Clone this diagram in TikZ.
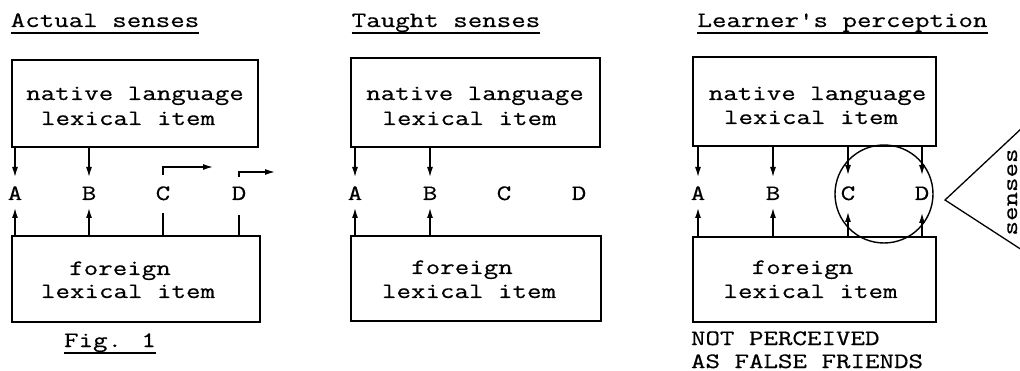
\documentclass[tikz,border=0pt]{standalone}
\usepackage{fontspec}
\newfontfamily\monofam[FakeStretch=1.28,FakeBold=0.5]{Latin Modern Mono}
\usetikzlibrary{arrows.meta,calc}
\begin{document}
\begin{tikzpicture}[x=1pt,y=-1pt,
  every node/.style={inner sep=0pt,outer sep=0pt,font=\monofam\fontsize{22}{26}\selectfont},
  box/.style={draw,line width=1.4pt,rectangle},
  txt/.style={anchor=base},
  ln/.style={line width=1.3pt},
  arr/.style={line width=1.3pt,-{Latex[length=10pt,width=6pt]}},
  uline/.style={line width=1.2pt}]
\useasboundingbox (0,0) rectangle (1020,371);
\clip (0,0) rectangle (1020,371);
\fill[white] (0,0) rectangle (1020,371);

% ---------- Panel 1 ----------
\node[txt] (t1) at (105,27) {Actual senses};
\draw[uline] ([yshift=-6pt]t1.base west) -- ([yshift=-6pt]t1.base east);
\node[box,minimum width=246pt,minimum height=87pt] (top1) at (135,103.5) {};
\node[txt] (n1a) at (135,100) {native language};
\node[txt] (n1b) at (128,125) {lexical item};
\node[box,minimum width=248pt,minimum height=86pt] (bot1) at (136,279) {};
\node[txt] (f1a) at (120,275) {foreign};
\node[txt] (f1b) at (128,298) {lexical item};
\node[txt] (A1) at (15,200) {A};
\node[txt] (B1) at (89,200) {B};
\node[txt] (C1) at (163,200) {C};
\node[txt] (D1) at (239,200) {D};
\draw[arr] (A1 |- top1.south) -- ([yshift=23pt]A1.base);
\draw[arr] (B1 |- top1.south) -- ([yshift=23pt]B1.base);
\draw[arr] (A1 |- bot1.north) -- ([yshift=-8pt]A1.base);
\draw[arr] (B1 |- bot1.north) -- ([yshift=-8pt]B1.base);
\draw[ln] (C1 |- bot1.north) -- ([yshift=-13pt]C1.base);
\draw[ln] (D1 |- bot1.north) -- ([yshift=-15pt]D1.base);
\draw[arr] ([yshift=25pt]C1.base) -- ++(0,-8) -- ++(50,0);
\draw[arr] ([yshift=23pt]D1.base) -- ++(0,-5) -- ++(36,0);
\node[txt] (fig) at (110,347) {Fig. 1};
\draw[uline] ([yshift=-6pt]fig.base west) -- ([yshift=-6pt]fig.base east);

% ---------- Panel 2 ----------
\node[txt] (t2) at (446,27) {Taught senses};
\draw[uline] ([yshift=-6pt]t2.base west) -- ([yshift=-6pt]t2.base east);
\node[box,minimum width=249pt,minimum height=89pt] (top2) at (475.5,102.5) {};
\node[txt] (n2a) at (475,100) {native language};
\node[txt] (n2b) at (469.5,125) {lexical item};
\node[box,minimum width=250pt,minimum height=85pt] (bot2) at (476,278.5) {};
\node[txt] (f2a) at (462,274) {foreign};
\node[txt] (f2b) at (469,298) {lexical item};
\node[txt] (A2) at (355,200) {A};
\node[txt] (B2) at (430,200) {B};
\node[txt] (C2) at (504,200) {C};
\node[txt] (D2) at (579,200) {D};
\draw[arr] (A2 |- top2.south) -- ([yshift=23pt]A2.base);
\draw[arr] (B2 |- top2.south) -- ([yshift=23pt]B2.base);
\draw[arr] (A2 |- bot2.north) -- ([yshift=-8pt]A2.base);
\draw[arr] (B2 |- bot2.north) -- ([yshift=-8pt]B2.base);

% ---------- Panel 3 ----------
\node[txt] (t3) at (842.5,27) {Learner's perception};
\draw[uline] ([yshift=-6pt]t3.base west) -- ([yshift=-6pt]t3.base east);
\node[box,minimum width=243pt,minimum height=89pt] (top3) at (814.5,101.5) {};
\node[txt] (n3a) at (817.5,100) {native language};
\node[txt] (n3b) at (811,124) {lexical item};
\node[box,minimum width=243pt,minimum height=85pt] (bot3) at (814.5,279.5) {};
\node[txt] (f3a) at (802.5,274) {foreign};
\node[txt] (f3b) at (810.5,298) {lexical item};
\node[txt] (A3) at (698,200) {A};
\node[txt] (B3) at (773,200) {B};
\node[txt] (C3) at (848,200) {C};
\node[txt] (D3) at (922,200) {D};
\draw[arr] (A3 |- top3.south) -- ([yshift=23pt]A3.base);
\draw[arr] (B3 |- top3.south) -- ([yshift=23pt]B3.base);
\draw[arr] (C3 |- top3.south) -- ([yshift=25pt]C3.base);
\draw[arr] (D3 |- top3.south) -- ([yshift=25pt]D3.base);
\draw[arr] (A3 |- bot3.north) -- ([yshift=-8pt]A3.base);
\draw[arr] (B3 |- bot3.north) -- ([yshift=-8pt]B3.base);
\draw[arr] (C3 |- bot3.north) -- ([yshift=-12pt]C3.base);
\draw[arr] (D3 |- bot3.north) -- ([yshift=-13pt]D3.base);
\node[draw,circle,line width=1.4pt,minimum size=98pt] (circ) at (884,194) {};
\coordinate (apex) at (945,200);
\coordinate (up) at (1022,128);
\coordinate (lo) at (1022,250);
\draw[ln] (up) -- (apex) -- (lo);
\node[rotate=90,anchor=base] (sen) at (1017,192) {senses};
\node[anchor=base west] (np1) at (691,345) {NOT PERCEIVED};
\node[anchor=base west] (np2) at (691,368) {AS FALSE FRIENDS};
\end{tikzpicture}
\end{document}
